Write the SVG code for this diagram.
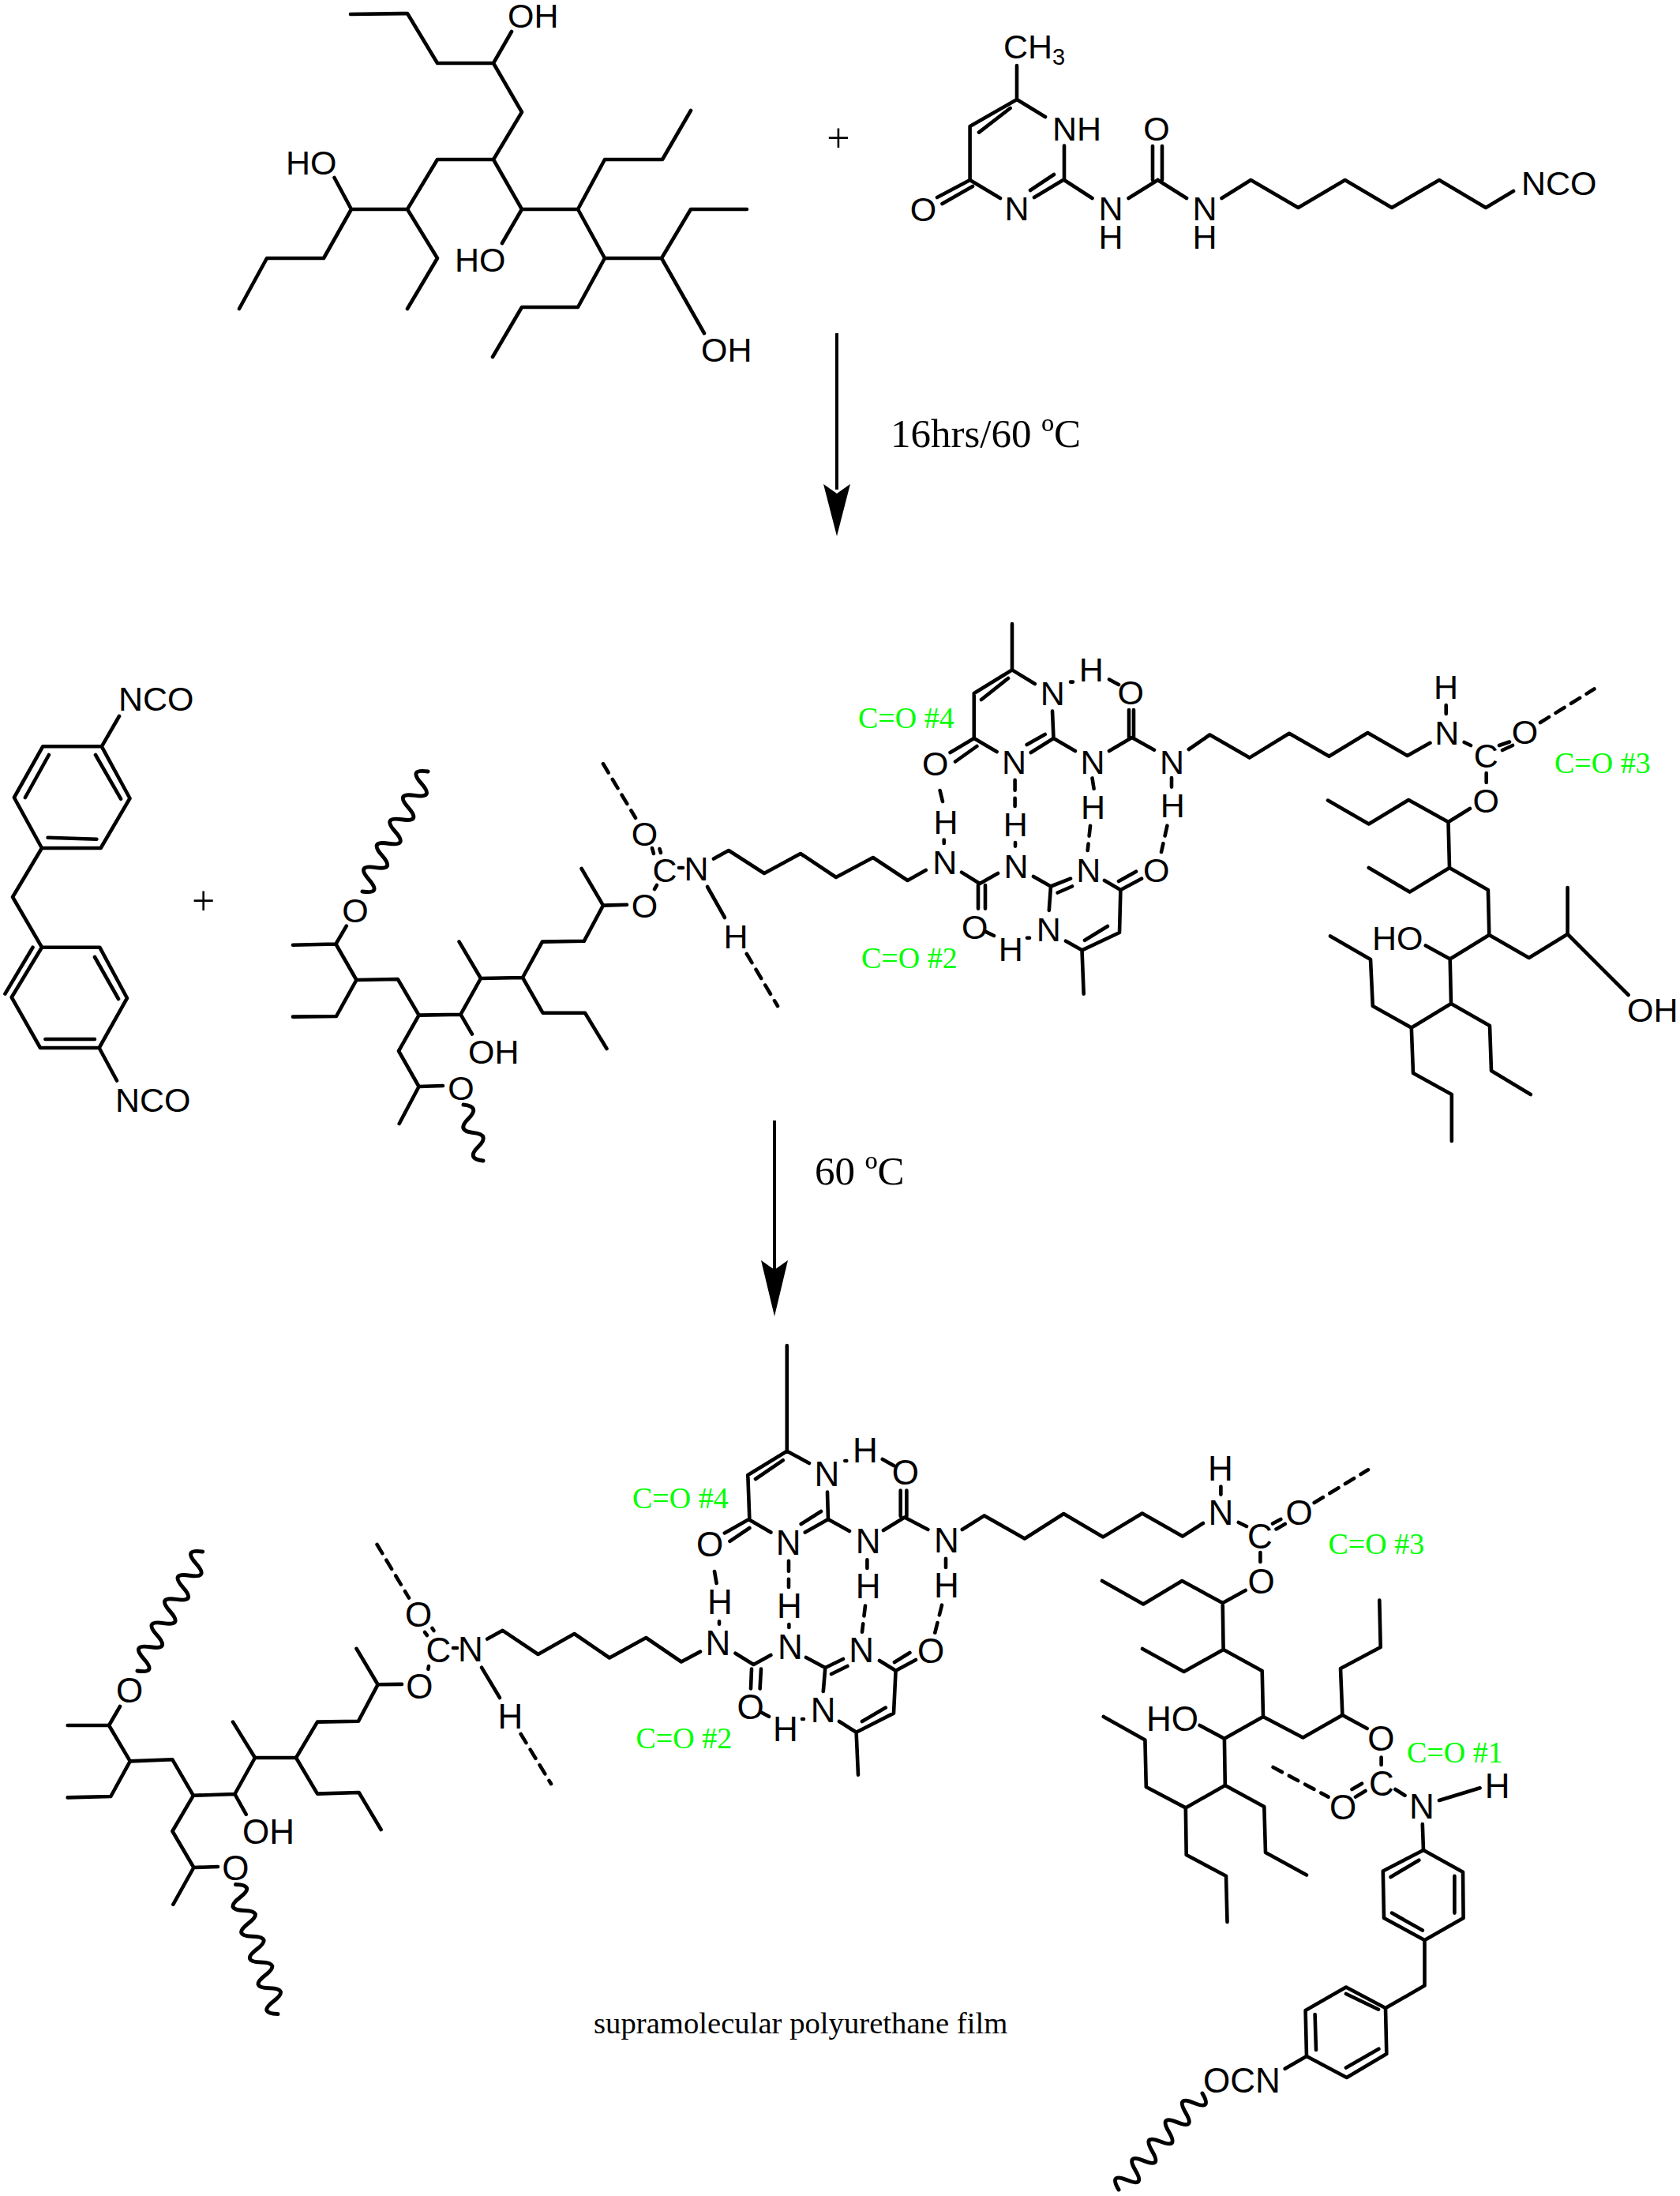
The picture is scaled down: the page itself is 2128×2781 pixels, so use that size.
<svg xmlns="http://www.w3.org/2000/svg" width="2128" height="2781" viewBox="0 0 2128 2781">
<style>
.b{fill:none;stroke:#000;stroke-width:4.600;stroke-linecap:round;stroke-linejoin:round}
.d{fill:none;stroke:#000;stroke-width:4.600;stroke-linecap:round;stroke-dasharray:13 10}
.w{fill:none;stroke:#000;stroke-width:5;stroke-linecap:round}
.thin{fill:none;stroke:#000;stroke-width:4}
text{font-family:"Liberation Sans",Arial,sans-serif;font-size:43px;fill:#000}
.m{text-anchor:middle}
.f{font-size:44px}
.g{font-family:"Liberation Serif","Times New Roman",serif;font-size:38px;fill:#0f0}
.s{font-family:"Liberation Serif","Times New Roman",serif;font-size:51px}
.p{font-family:"Liberation Serif","Times New Roman",serif;font-size:52px}
</style>
<rect width="2128" height="2781" fill="#fff"/>
<g id="connectors">
<path class="thin" d="M1060 422V620"/><polygon points="1060,679 1077,613 1060,625 1043,613"/>
<path class="thin" d="M981 1419V1610"/><polygon points="981,1667 998,1596 981,1608 964,1596"/>
</g>
<g id="polyol">
<path class="b" d="M444 18L516 17L554 80H625L661 142L625 202H554L516 265H445L410 327H338L303 391M625 80L648 40M516 265L554 327L516 391M445 265L423.500 225M625 202L661 265H732L766 327H838L892 422M661 265L636 308M732 265L766 202H839L875 140M766 327L732 389H661L624 452M838 327L875 265H946"/>
<text x="643" y="35">OH</text><text x="362" y="221">HO</text><text x="576" y="344">HO</text><text x="888" y="458">OH</text>
</g>
<g id="plus-1"><text class="p m" x="1062" y="192">+</text></g>
<g id="upy-nco">
<path class="b" d="M1288 83V126L1324 148M1288 126L1228.600 160V228L1267 251M1279.600 137L1240 167.600M1228.600 228L1187 250M1232 236L1193.500 258M1305 241L1335 221M1310 250L1346.600 228M1348 228V184.600M1348 228L1383.500 251M1429.500 251L1466.500 228M1460 228V185M1472 228V185M1466.500 228L1503 251M1547.500 251L1584.400 228L1644.400 263L1703.700 228L1763 263L1823 228L1882 263L1917 242"/>
<text x="1271" y="73.500">CH<tspan font-size="29" dy="8">3</tspan></text>
<text class="m" x="1169.500" y="280">O</text><text class="m" x="1288" y="279">N</text>
<text x="1333" y="178">NH</text><text class="m" x="1407" y="279">N</text><text class="m" x="1407" y="315">H</text>
<text class="m" x="1465" y="178">O</text><text class="m" x="1526" y="279">N</text><text class="m" x="1526" y="315">H</text>
<text x="1927" y="246.500">NCO</text>
</g>
<g id="label-16hrs"><text class="s" x="1128" y="566">16hrs/60 ºC</text></g>
<g id="mdi">
<path class="b" d="M151 907L128.800 945.300H54.200L17.900 1010L53 1074H127.600L164.500 1011L128.800 945.300M61.900 956L31.900 1010M121 956L153 1011.700M60.600 1060.700L122.400 1062.700M53 1074L16 1136L53 1199.700H126.300L161 1264L125.600 1327H51L14.700 1263L53 1199.700M41.500 1199.700L6.400 1258.600M120 1212L150 1265M57.400 1316H120M125.600 1327L148 1368.500"/>
<text x="150" y="900">NCO</text><text x="146" y="1408">NCO</text>
</g>
<g id="plus-2"><text class="p m" x="257.600" y="1158">+</text></g>
<g id="mid-polyol">
<path class="b" d="M371 1196.800L425.400 1195.500L438.800 1172.700M425.400 1195.500L451.500 1241L503.800 1240L530.600 1285.600L583.500 1284.700L609 1239L662 1238L686.900 1192.600L739.800 1191.800L764 1146.600L794 1145.700M764 1146.600L736.600 1100M451.500 1241L426 1287L371 1287.600M609 1239L581.600 1192.600M583.500 1284.700L598 1309.600M662 1238L687.500 1282.700H741L768.500 1328M530.600 1285.600L505 1331L530.600 1376L561 1375M530.600 1376L505.700 1423"/>
<path class="w" d="M459 1129q25.200 3.900 8.300 -15.200t8.300 -15.200 8.300 -15.200 8.300 -15.200 8.300 -15.200 8.300 -15.200 8.300 -15.200 8.300 -15.200 8.300 -15.200 8.300 -15.200"/>
<path class="w" d="M587 1399q21.900 2.300 6.250 17.750t6.250 17.750 6.250 17.750 6.250 17.750"/>
<text class="m" x="450" y="1167.700">O</text><text class="m" x="816.500" y="1162">O</text><text x="593" y="1347">OH</text><text class="m" x="584" y="1392.600">O</text>
</g>
<g id="mid-urethane-a">
<path class="d" d="M764 967.300L805 1035.800"/>
<path class="b" d="M826 1074L828 1081M835.500 1075L837 1080M860 1099H865M832 1121L829 1126M896 1123L918 1162"/>
<path class="d" d="M945.800 1208L985 1274"/>
<text class="m" x="816.500" y="1071">O</text><text class="m" x="842" y="1116.700">C</text><text class="m" x="882" y="1115">N</text><text class="m" x="932" y="1201">H</text>
</g>
<g id="mid-upy-dimer">
<path class="b" d="M904 1087.600L923 1077L968 1106L1014 1081L1059 1111L1105.800 1086L1149.600 1115L1172.700 1102M1282 790V848.400L1310.800 866M1282 848.400L1233.800 878V935L1262.600 952M1277 859L1243 886M1233.800 935L1203.600 953M1237.400 945L1210 964.500M1334.500 935L1305.800 953M1323.700 930L1300.700 943M1334.500 935L1333 900.600M1334.500 935L1361.900 951M1405 951L1433.800 934L1462 949.700M1430 934V899M1436 934V899M1505.800 949L1532.400 930.500L1582.700 959.600L1633 928.800L1683.500 957.800L1732.400 928L1782.700 957L1811.500 940.800M1831.700 893V904M1854.700 940L1863 944M1899 944L1912 939.500M1903 950L1916 944M1882.700 979V991M1190.600 1001L1194 1015M1195.700 1063.600V1068M1218 1104.600L1241 1119L1264 1106M1239 1120.700V1150.600M1248 1121V1150.600M1248 1179.600L1259 1185M1301 1187.700H1304M1286 1067V1071.600M1309 1110L1331 1122.500L1356 1112.700M1339.600 1130.500L1358 1122.500M1331 1122.500L1328.800 1152.900M1383.500 985.400L1385.600 998.800M1484 985V996.600M1399 1115L1419.400 1127L1446 1112.700M1417 1116L1439 1103.700M1419.400 1127L1418 1181L1370.500 1203.300L1350 1191.700M1402.900 1173L1374 1190.800M1370.500 1203.300L1372.700 1258.700M1356 863.600H1359M1405 860.400L1417 867"/>
<path class="d" d="M1285.600 987.700V1021M1381 1045.700L1377.700 1077M1478.400 1045.700L1471 1079M1951 915L2019.400 872.500"/>
<text class="m" x="1184.700" y="982">O</text><text class="m" x="1284.500" y="980">N</text><text class="m" x="1333.300" y="893">N</text><text class="m" x="1384" y="980">N</text>
<text class="m" x="1432.300" y="891.700">O</text><text class="m" x="1484.500" y="980">N</text><text class="m" x="1382.200" y="862.700">H</text>
<text class="m" x="1198" y="1055.500">H</text><text class="m" x="1196.700" y="1107">N</text><text class="m" x="1234.800" y="1188.600">O</text><text class="m" x="1280.400" y="1216.700">H</text>
<text class="m" x="1328.200" y="1192">N</text><text class="m" x="1287" y="1111.800">N</text><text class="m" x="1286.300" y="1059">H</text>
<text class="m" x="1378.800" y="1117">N</text><text class="m" x="1384.500" y="1036.800">H</text><text class="m" x="1485.200" y="1034.600">H</text><text class="m" x="1464.700" y="1117">O</text>
<text class="m" x="1832.800" y="943">N</text><text class="m" x="1831.500" y="885">H</text><text class="m" x="1882.300" y="972">C</text><text class="m" x="1931.600" y="942">O</text><text class="m" x="1882.300" y="1029">O</text>
</g>
<g id="mid-polyol-right">
<path class="b" d="M1861.900 1024L1834.500 1041L1784.200 1013L1733.800 1043.500L1682 1013.600M1834.500 1041L1836 1099L1785.600 1129.600L1733.800 1099M1836 1099L1884.900 1127L1886.300 1184L1936.700 1213L1985.600 1183V1124M1985.600 1183L2062.600 1260M1886.300 1184L1836.700 1214.500L1838 1271L1787.800 1301.500L1738.800 1274L1736 1215L1685 1185.400M1836.700 1214.500L1805.800 1197.500M1838 1271L1887 1299L1889 1356L1938.800 1386M1787.800 1301.500L1790 1359L1838.800 1386V1445"/>
<text x="2061" y="1293.500">OH</text><text x="1738" y="1203">HO</text>
</g>
<g id="mid-labels">
<text class="g" x="1087" y="921.600">C=O #4</text><text class="g" x="1969" y="978.800">C=O #3</text><text class="g" x="1091" y="1225.600">C=O #2</text>
</g>
<g id="label-60"><text class="s" x="1032" y="1500">60 ºC</text></g>
<g id="bottom-polyol">
<path class="b" d="M152 2161L138 2185H85.700M138 2185L164.800 2230.400L218.400 2228.300L244.900 2273.800L297.400 2272L323 2226H375L402 2180.600L454 2179.700L478.600 2133.300L509 2132.900M164.800 2230.400L140.300 2275L85.700 2276.400M478.600 2133.300L451.500 2087.800M323 2226L295 2180.600M297.400 2272L311.700 2297.700M375 2226L402 2271.600L454.600 2270L482.600 2317M244.900 2273.800L218.400 2319L245.400 2365L276 2364M245.400 2365L219.400 2411.700"/>
<path class="w" d="M174 2116q25.200 3.900 8.260 -15.100t8.260 -15.100 8.260 -15.100 8.260 -15.100 8.260 -15.100 8.260 -15.100 8.260 -15.100 8.260 -15.100 8.260 -15.100 8.260 -15.100"/>
<path class="w" d="M298.500 2386.600q25.500 .8 5.350 16.400t5.350 16.400 5.350 16.400 5.350 16.400 5.350 16.400 5.350 16.400 5.350 16.400 5.350 16.400 5.350 16.400 5.350 16.400"/>
<text class="f m" x="164" y="2155.800">O</text><text class="f m" x="531.400" y="2150.600">O</text><text class="f" x="307" y="2335">OH</text><text class="f m" x="298.400" y="2380.500">O</text>
</g>
<g id="bottom-urethane-a">
<path class="d" d="M477.600 1956L518 2023.600M659.700 2196L698 2259"/>
<path class="b" d="M538 2067L541 2071M547.400 2061.800L549.500 2065M574 2087H579M543 2110L542.400 2113.800M610 2111.600L633 2150"/>
<text class="f m" x="530" y="2059.600">O</text><text class="f m" x="555.500" y="2104.700">C</text><text class="f m" x="596" y="2103.800">N</text><text class="f m" x="646.500" y="2189">H</text>
</g>
<g id="bottom-upy-dimer">
<path class="b" d="M617.300 2075.600L636.700 2064.800L681.600 2095L727.500 2069L772 2099.500L818.300 2074L863 2104.500L887 2091.600M911 2053.400V2056.800M905 1990L907.600 2005M931.500 2093.700L954.500 2108L976.400 2096M952 2113.600L951 2138.500M964 2113.600L962.600 2138.500M964.700 2168.800L974 2173.800M1016 2177H1018M1063 2180L1084.600 2193.700L1132 2169.600L1134.600 2115.700L1114 2103M1092 2180L1121.800 2162.600M1084.600 2193.700L1087 2247.600M1134.600 2115.700L1160 2102M1133 2105L1152.400 2093M1198 1973.800V1985M1175.400 1937L1145.800 1921.500L1119 1938M1140.700 1920V1887.500M1148.400 1920V1887.500M1132 1856L1117.800 1848M1070.300 1850H1072.300M1025 1853L996.800 1837.700V1704M996.800 1837.700L947.300 1868L949.400 1924.800L976.400 1940.600M991.700 1849.300L957 1873M947.300 1924.800L917.800 1941.400M949.400 1935L924.400 1951.800M999.400 2057V2061M1021 2099L1045.300 2112L1068 2101M1053 2120L1073.400 2110M1045.300 2112L1042.800 2142M1098.400 1975.400V1986M1076 1939L1049 1924L1048 1889.600M1049 1924L1019.800 1940.600M1040 1914L1014.700 1930M1218.800 1937L1246.800 1919.400L1297.900 1948.500L1347.300 1917L1397.300 1946.400L1446.800 1916.500L1497.800 1945.600L1523.900 1929M1546.400 1882.600V1892.600M1568.800 1928L1579 1933M1612 1929.500L1622.300 1924M1616.500 1936.400L1627.700 1930M1596.400 1966V1978"/>
<path class="d" d="M999 1976.700V2010M1193 2032.700L1184 2069M1096 2033.500L1092 2066.700M1664.700 1903L1733 1861.300"/>
<text class="f m" x="909.500" y="2096">N</text><text class="f m" x="912" y="2044">H</text><text class="f m" x="950.600" y="2176.700">O</text><text class="f m" x="995" y="2205">H</text><text class="f m" x="1042.700" y="2181">N</text><text class="f m" x="1179" y="2106">O</text><text class="f m" x="1198.800" y="2023">H</text><text class="f m" x="1198.800" y="1965.500">N</text><text class="f m" x="1146.800" y="1880">O</text><text class="f m" x="1095.800" y="1852">H</text><text class="f m" x="1047.300" y="1882">N</text><text class="f m" x="899.200" y="1970.500">O</text><text class="f m" x="998.600" y="1969">N</text><text class="f m" x="1000" y="2048.500">H</text><text class="f m" x="1001" y="2101">N</text><text class="f m" x="1091.200" y="2105">N</text><text class="f m" x="1099.600" y="2024.400">H</text><text class="f m" x="1099.600" y="1967">N</text><text class="f m" x="1546.500" y="1931">N</text><text class="f m" x="1545.800" y="1875">H</text><text class="f m" x="1596" y="1961">C</text><text class="f m" x="1645.500" y="1931.400">O</text><text class="f m" x="1597.500" y="2017.800">O</text>
</g>
<g id="bottom-polyol-right">
<path class="b" d="M1577.700 2014L1548.700 2030L1497.300 2002L1448.200 2031.500L1396 2002M1548.700 2030L1549.600 2089L1499.600 2117L1447 2088M1549.600 2089L1598.700 2116L1600 2174L1650.400 2200.500L1700.400 2172L1698 2113L1748.700 2086L1747.300 2026.500M1700.400 2172L1731.700 2189M1600 2174L1550.900 2201.800L1551.800 2261L1501.800 2289.400M1550.900 2201.800L1519.600 2184.900M1551.800 2261L1601.300 2288L1603 2346L1655 2374.500M1501.800 2289.400L1451.800 2263L1450.400 2203.600L1397.800 2174M1501.800 2289.400L1502.700 2349L1553 2375.700L1554.500 2434"/>
<text class="f" x="1452" y="2192.400">HO</text>
</g>
<g id="bottom-urethane-b">
<path class="b" d="M1749.600 2225.500V2235M1767.400 2266L1779.500 2273.700M1823 2280L1874.600 2264.300M1712.500 2266L1725 2258.700M1717 2275.600L1729.500 2268M1801.800 2310L1803 2343"/>
<path class="d" d="M1612.500 2238L1682.600 2275.600"/>
<text class="f m" x="1749.300" y="2217.400">O</text><text class="f m" x="1750" y="2274">C</text><text class="f m" x="1801" y="2302.500">N</text><text class="f m" x="1896.700" y="2276.800">H</text><text class="f m" x="1701" y="2303.800">O</text>
</g>
<g id="bottom-mdi">
<path class="b" d="M1803 2343L1853 2370.700L1853.600 2429L1804.500 2457L1753 2429L1751.800 2369.500L1803 2343M1797.300 2355.700L1761.600 2377M1842.400 2375.700V2422.600M1763 2422.600L1801.800 2444.600M1804.500 2457V2514.600L1755 2543L1705 2516.500L1653.600 2546L1655 2604L1705.800 2631L1756.300 2601L1755 2543M1746 2544.700L1705 2525M1665.600 2551L1667 2596M1705 2618.500L1746.400 2594.700M1655 2604L1627.700 2619.800"/>
<path class="w" d="M1523 2651q12.800 21.800 -10.600 12.200t-10.600 12.200 -10.600 12.200 -10.600 12.200 -10.600 12.200 -10.600 12.200 -10.600 12.200 -10.600 12.200 -10.600 12.200 -10.600 12.200"/>
<text class="f" x="1524" y="2650">OCN</text>
</g>
<g id="bottom-labels">
<text class="g" x="801" y="1910">C=O #4</text><text class="g" x="805.500" y="2214">C=O #2</text><text class="g" x="1682.500" y="1967.700">C=O #3</text><text class="g" x="1782" y="2231.800">C=O #1</text>
</g>
<g id="caption"><text x="752" y="2575" style="font-family:'Liberation Serif','Times New Roman',serif;font-size:38.700px">supramolecular polyurethane film</text></g>
</svg>
